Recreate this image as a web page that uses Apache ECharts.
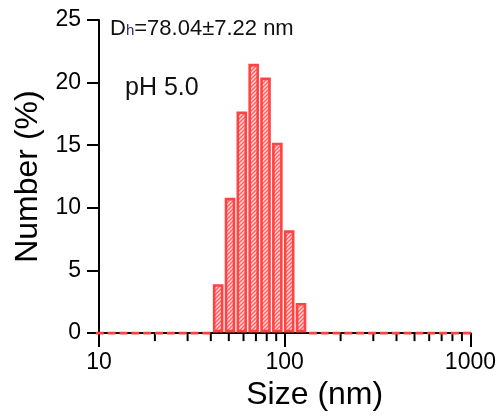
<!DOCTYPE html>
<html>
<head>
<meta charset="utf-8">
<script src="https://cdn.jsdelivr.net/npm/echarts@6/dist/echarts.min.js"></script>
<style>
  html, body { margin: 0; padding: 0; background: #fff; }
  #chart { width: 499px; height: 416px; }
</style>
</head>
<body>
<div id="chart"></div>
<script>
// size bins (nm), DLS number distribution
const sizes = [10.1, 11.7, 13.54, 15.69, 18.17, 21.04, 24.36, 28.21, 32.67, 37.84,
  43.82, 50.75, 58.77, 68.06, 78.82, 91.28, 105.7, 122.4, 141.8, 164.2,
  190.1, 220.2, 255.0, 295.3, 342.0, 396.1, 458.7, 531.2, 615.1, 712.4, 825.0, 955.4]
const numbers = [0, 0, 0, 0, 0, 0, 0, 0, 0, 0,
  3.8, 10.7, 17.6, 21.4, 20.3, 15.1, 8.1, 2.3, 0, 0,
  0, 0, 0, 0, 0, 0, 0, 0, 0, 0, 0, 0]
const minorTicks = [20, 30, 40, 50, 60, 70, 80, 90, 200, 300, 400, 500, 600, 700, 800, 900]
const yTicks = [0, 5, 10, 15, 20, 25]

const red = '#ff4343'
const font = 'Liberation Sans, Arial, sans-serif'

// hatch pattern for bar fill
const hatch = document.createElement('canvas')
hatch.width = 4
hatch.height = 4
const hctx = hatch.getContext('2d')
hctx.fillStyle = '#ff6060'
hctx.fillRect(0, 0, 4, 4)
hctx.strokeStyle = '#ffe0e0'
hctx.lineWidth = 1.3
hctx.beginPath()
hctx.moveTo(0, 4); hctx.lineTo(4, 0)
hctx.moveTo(-1, 1); hctx.lineTo(1, -1)
hctx.moveTo(3, 5); hctx.lineTo(5, 3)
hctx.stroke()

const myChart = echarts.init(document.getElementById('chart'))
const option = {
  animation: false,
  grid: { left: 99, right: 28, top: 20, bottom: 82 },
  xAxis: {
    type: 'log',
    logBase: 10,
    min: 10,
    max: 1000,
    name: 'Size (nm)',
    nameLocation: 'middle',
    nameGap: 40,
    nameTextStyle: { fontSize: 32, color: '#000', fontFamily: font, padding: [0, 0, 0, 60] },
    axisLine: { lineStyle: { color: '#000', width: 2 } },
    axisTick: { show: true, length: 14, lineStyle: { color: '#000', width: 2 } },
    axisLabel: { fontSize: 23, color: '#000', fontFamily: font, margin: 18, formatter: v => String(Math.round(v)) },
    splitLine: { show: false }
  },
  yAxis: {
    type: 'value',
    min: yTicks[0],
    max: yTicks[yTicks.length - 1],
    interval: 5,
    name: 'Number (%)',
    nameLocation: 'middle',
    nameGap: 52,
    nameTextStyle: { fontSize: 32, color: '#000', fontFamily: font },
    axisLine: { show: true, lineStyle: { color: '#000', width: 2 } },
    axisTick: { show: true, length: 12, lineStyle: { color: '#000', width: 2 } },
    axisLabel: { fontSize: 23, color: '#000', fontFamily: font, margin: 18 },
    splitLine: { show: false }
  },
  graphic: [
    {
      type: 'text',
      left: 110,
      top: 18,
      style: {
        text: '{a|D}{s|h}{a|=78.04±7.22 nm}',
        rich: {
          a: { fontSize: 22, fontFamily: font, fill: '#111', verticalAlign: 'bottom', height: 26 },
          s: { fontSize: 15, fontFamily: font, fill: '#2c2c78', verticalAlign: 'bottom', height: 22 }
        }
      }
    },
    {
      type: 'text',
      left: 125,
      top: 76,
      style: { text: 'pH 5.0', fontSize: 25, fontFamily: font, fill: '#111' }
    }
  ],
  series: [
    {
      type: 'custom',
      name: 'number',
      data: sizes.map((s, i) => [s, numbers[i]]),
      renderItem: function (params, api) {
        const top = api.coord([api.value(0), api.value(1)])
        const base = api.coord([api.value(0), 0])
        const w = 8
        return {
          type: 'rect',
          shape: { x: top[0] - w / 2, y: top[1], width: w, height: Math.max(base[1] - top[1] - 2, 0) },
          style: { fill: { image: hatch, repeat: 'repeat' }, stroke: red, lineWidth: 2.6 }
        }
      },
      z: 3
    },
    {
      type: 'custom',
      name: 'minorTicks',
      data: minorTicks.map(v => [v, 0]),
      renderItem: function (params, api) {
        const p = api.coord([api.value(0), 0])
        return {
          type: 'line',
          shape: { x1: p[0], y1: p[1], x2: p[0], y2: p[1] + 8 },
          style: { stroke: '#000', lineWidth: 2 }
        }
      },
      silent: true,
      z: 1
    }
  ]
}
myChart.setOption(option)
window.addEventListener('resize', () => myChart.resize())
</script>
</body>
</html>
